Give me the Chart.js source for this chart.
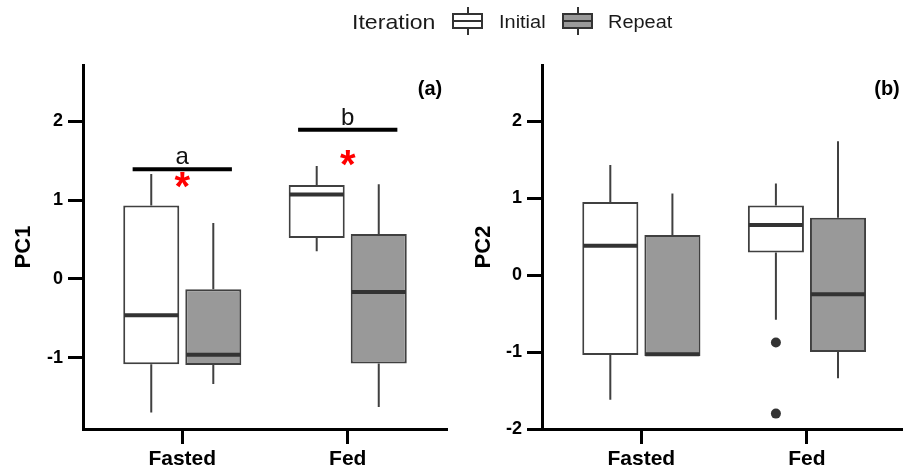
<!DOCTYPE html>
<html><head><meta charset="utf-8">
<script src="https://cdn.jsdelivr.net/npm/chart.js@4.4.1/dist/chart.umd.min.js"></script>
<style>
html,body{margin:0;padding:0;background:#fff;}
#wrap{position:relative;width:903px;height:473px;overflow:hidden;font-family:"Liberation Sans",Arial,sans-serif;}
#boxA{position:absolute;left:0;top:0;width:460px;height:473px;}
#boxB{position:absolute;left:460px;top:0;width:443px;height:473px;}
.lg{position:absolute;white-space:nowrap;color:#1a1a1a;line-height:1;transform-origin:left top;}
.gl{position:absolute;box-sizing:border-box;}
</style></head><body>
<div id="wrap">
<div id="boxA"><canvas id="cA"></canvas></div>
<div id="boxB"><canvas id="cB"></canvas></div>
<div id="legend"></div>
</div>
<script>
// ---- data ----
const categories = ['Fasted', 'Fed'];
const seriesNames = ['Initial', 'Repeat'];
const legendTitle = 'Iteration';
// each entry: [min, q1, median, q3, max] for Fasted, Fed
const pc1Initial = [[-1.69, -1.08, -0.46, 0.93, 1.33], [0.35, 0.52, 1.07, 1.19, 1.43]];
const pc1Repeat  = [[-1.33, -1.09, -0.96, -0.13, 0.71], [-1.62, -1.07, -0.165, 0.57, 1.20]];
const pc2Initial = [[-1.62, -1.04, 0.38, 0.95, 1.43], [-0.58, 0.295, 0.65, 0.905, 1.19]];
const pc2Repeat  = [[-1.05, -1.05, -1.03, 0.52, 1.06], [-1.34, -1.00, -0.25, 0.745, 1.74]];
const pc1InitialOutliers = [[], []];
const pc1RepeatOutliers  = [[], []];
const pc2InitialOutliers = [[], [-0.875, -1.80]];
const pc2RepeatOutliers  = [[], []];
const pc1YTicks = [-1, 0, 1, 2];
const pc2YTicks = [-2, -1, 0, 1, 2];
// significance annotations on PC1
const sigLetters = ['a', 'b'];
const sigFrom = [0.70, 1.70];
const sigTo = [1.30, 2.30];
const sigLevel = [1.39, 1.89];
const starX = [1, 2];
const starLevel = [1.25, 1.53];

const FONT = '"Liberation Sans", Arial, sans-serif';
const fills = ['#ffffff', '#999999'];

// ---- legend (HTML) ----
(function(){
  const lg = document.getElementById('legend');
  function txt(t, left, top, size, sx){
    const s = document.createElement('span');
    s.className='lg'; s.textContent=t;
    s.style.left=left+'px'; s.style.top=top+'px'; s.style.fontSize=size+'px';
    s.style.fontFamily=FONT; s.style.transform='scaleX('+sx+')';
    lg.appendChild(s);
  }
  function glyph(left, fill){
    const v=document.createElement('div'); v.className='gl';
    Object.assign(v.style,{left:(left+14.5)+'px',top:'7px',width:'2px',height:'28px',background:'#333'});
    const b=document.createElement('div'); b.className='gl';
    Object.assign(b.style,{left:left+'px',top:'13px',width:'31px',height:'16px',border:'2px solid #333',background:fill});
    const m=document.createElement('div'); m.className='gl';
    Object.assign(m.style,{left:left+'px',top:'20px',width:'31px',height:'2px',background:'#333'});
    lg.appendChild(v); lg.appendChild(b); lg.appendChild(m);
  }
  txt(legendTitle, 352, 11, 21, 1.1);
  glyph(452, fills[0]);
  txt(seriesNames[0], 499, 13.5, 17.5, 1.14);
  glyph(562, fills[1]);
  txt(seriesNames[1], 608, 13.5, 17.5, 1.14);
})();

// ---- plugins ----
const boxPlugin = {
  id: 'boxplot',
  afterDatasetsDraw(chart){
    const ctx = chart.ctx, ys = chart.scales.y;
    chart.data.datasets.forEach((ds, di) => {
      const meta = chart.getDatasetMeta(di);
      meta.data.forEach((bar, i) => {
        const s = ds.stats[i]; const x = bar.x; const hw = bar.width / 2;
        ctx.save();
        ctx.strokeStyle = '#404040'; ctx.lineWidth = 2; ctx.lineCap = 'butt';
        ctx.beginPath();
        ctx.moveTo(x, ys.getPixelForValue(s[3])); ctx.lineTo(x, ys.getPixelForValue(s[4]));
        ctx.moveTo(x, ys.getPixelForValue(s[1])); ctx.lineTo(x, ys.getPixelForValue(s[0]));
        ctx.stroke();
        const my = ys.getPixelForValue(s[2]);
        ctx.strokeStyle = '#333333'; ctx.lineWidth = 4;
        ctx.beginPath(); ctx.moveTo(x - hw + 1, my); ctx.lineTo(x + hw - 1, my); ctx.stroke();
        (ds.outliers[i] || []).forEach(v => {
          ctx.fillStyle = '#333333'; ctx.beginPath();
          ctx.arc(x, ys.getPixelForValue(v), 5, 0, Math.PI * 2); ctx.fill();
        });
        ctx.restore();
      });
    });
  }
};

const annoPlugin = {
  id: 'anno',
  afterDraw(chart){
    const o = chart.options.plugins.anno; if (!o) return;
    const ctx = chart.ctx, xs = chart.scales.x, ys = chart.scales.y;
    ctx.save();
    // panel label
    ctx.fillStyle = '#000'; ctx.font = 'bold 20px ' + FONT;
    ctx.textAlign = 'center'; ctx.textBaseline = 'middle';
    ctx.fillText(o.panel, o.panelX, o.panelY);
    if (o.sig) {
      for (let i = 0; i < sigLetters.length; i++) {
        const y = ys.getPixelForValue(sigLevel[i]);
        const x1 = xs.getPixelForValue(sigFrom[i]), x2 = xs.getPixelForValue(sigTo[i]);
        ctx.strokeStyle = '#000'; ctx.lineWidth = 4;
        ctx.beginPath(); ctx.moveTo(x1, y); ctx.lineTo(x2, y); ctx.stroke();
        ctx.fillStyle = '#111'; ctx.font = '24px ' + FONT;
        ctx.textAlign = 'center'; ctx.textBaseline = 'alphabetic';
        ctx.fillText(sigLetters[i], (x1 + x2) / 2, y - 5);
        // star
        ctx.fillStyle = '#ff0000'; ctx.font = 'bold 40px ' + FONT;
        const m = ctx.measureText('*');
        const cy = ys.getPixelForValue(starLevel[i]);
        const base = cy + (m.actualBoundingBoxAscent - m.actualBoundingBoxDescent) / 2;
        ctx.fillText('*', xs.getPixelForValue(starX[i]), base);
      }
    }
    ctx.restore();
  }
};

function makeChart(id, p){
  const mk = (stats, outl, k) => ({
    label: seriesNames[k],
    data: stats.map((s, i) => ({x: i + 1, y: [s[1], s[3]]})),
    stats: stats, outliers: outl,
    backgroundColor: fills[k], borderColor: '#404040', borderWidth: 2, borderSkipped: false,
    categoryPercentage: 0.75, barPercentage: 0.903
  });
  return new Chart(document.getElementById(id), {
    type: 'bar',
    data: { datasets: [mk(p.ini, p.iniOut, 0), mk(p.rep, p.repOut, 1)] },
    plugins: [boxPlugin, annoPlugin],
    options: {
      responsive: true, maintainAspectRatio: false, animation: false, devicePixelRatio: 1,
      layout: { padding: { top: 65, right: p.padRight, left: 0, bottom: 0 } },
      plugins: { legend: { display: false }, tooltip: { enabled: false }, anno: p.anno },
      scales: {
        x: {
          type: 'linear', min: 0.4, max: p.xmax, offset: false,
          afterBuildTicks: s => { s.ticks = categories.map((c, i) => ({value: i + 1})); },
          afterFit: s => { s.height = 44; },
          grid: { drawOnChartArea: false, offset: false, tickLength: 15, tickWidth: 3, tickColor: '#000' },
          border: { display: true, color: '#000', width: 3 },
          ticks: { callback: (v, i) => categories[i], color: '#000', padding: 3, maxRotation: 0,
                   font: { family: FONT, size: 21, weight: 'bold' } }
        },
        y: {
          type: 'linear', min: p.ymin, max: p.ymax,
          afterBuildTicks: s => { s.ticks = p.yticks.map(v => ({value: v})); },
          afterFit: s => { s.width = p.yWidth; },
          grid: { drawOnChartArea: false, tickLength: 15, tickWidth: 3, tickColor: '#000' },
          border: { display: true, color: '#000', width: 3 },
          ticks: { callback: v => String(v), color: '#000', padding: 5,
                   font: { family: FONT, size: 18, weight: 'bold' } },
          title: { display: true, text: p.title, color: '#000', padding: { top: 11, bottom: 0 },
                   font: { family: FONT, size: 22, weight: 'bold' } }
        }
      }
    }
  });
}

makeChart('cA', { ini: pc1Initial, rep: pc1Repeat, iniOut: pc1InitialOutliers, repOut: pc1RepeatOutliers,
  ymin: -1.9, ymax: 2.71, yticks: pc1YTicks, title: 'PC1', xmax: 2.6, padRight: 13, yWidth: 83,
  anno: { panel: '(a)', panelX: 430, panelY: 89, sig: true } });
makeChart('cB', { ini: pc2Initial, rep: pc2Repeat, iniOut: pc2InitialOutliers, repOut: pc2RepeatOutliers,
  ymin: -2, ymax: 2.73, yticks: pc2YTicks, title: 'PC2', xmax: 2.58, padRight: 0, yWidth: 82,
  anno: { panel: '(b)', panelX: 427, panelY: 89, sig: false } });
</script>
</body></html>
